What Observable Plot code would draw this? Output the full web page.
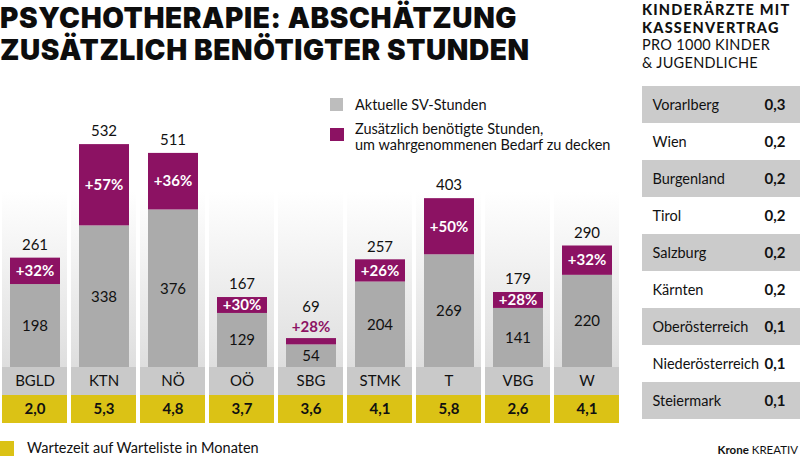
<!DOCTYPE html>
<html>
<head>
<meta charset="utf-8">
<script src="https://cdn.jsdelivr.net/npm/d3@7"></script>
<script src="https://cdn.jsdelivr.net/npm/@observablehq/plot@0.6"></script>
<style>
  html, body { margin: 0; padding: 0; background: #fff; }
  #root { position: relative; width: 800px; height: 456px; overflow: hidden; font-family: Lato, "Noto Sans", sans-serif; color: #111; }
  .abs { position: absolute; }
  #title { left: 0; top: 3px; font-family: Inter, sans-serif; font-weight: 900; font-size: 28px; line-height: 31.5px; letter-spacing: 0.6px; white-space: nowrap; color: #0d0d0d; }
  #sideTitle { left: 642px; top: 1px; font-size: 14.5px; line-height: 17.5px; white-space: nowrap; letter-spacing: 0.3px; }
  #sideTitle b { font-weight: 900; letter-spacing: 1.2px; }
  .legSq { width: 13px; height: 13px; }
  .legTxt { font-size: 14.5px; line-height: 15.5px; white-space: nowrap; }
  #krone { right: 2px; top: 443px; font-size: 11.5px; white-space: nowrap; }
</style>
</head>
<body>
<div id="root">
  <div id="title" class="abs">PSYCHOTHERAPIE: ABSCHÄTZUNG<br>ZUSÄTZLICH BENÖTIGTER STUNDEN</div>
  <div id="sideTitle" class="abs"><b>KINDERÄRZTE MIT<br>KASSENVERTRAG</b><br>PRO 1000 KINDER<br>&amp; JUGENDLICHE</div>

  <div class="abs legSq" style="left:330px;top:98px;background:#bdbdbd"></div>
  <div class="abs legTxt" style="left:355px;top:97px">Aktuelle SV-Stunden</div>
  <div class="abs legSq" style="left:330px;top:128px;width:14px;background:#8c1263"></div>
  <div class="abs legTxt" style="left:355px;top:121px">Zusätzlich benötigte Stunden,<br>um wahrgenommenen Bedarf zu decken</div>

  <div class="abs" id="barsBox" style="left:0;top:80px"></div>
  <div class="abs" id="bottomBox" style="left:0;top:367px"></div>
  <div class="abs" id="tableBox" style="left:642px;top:83px"></div>

  <div class="abs" style="left:0;top:441px;width:14px;height:15px;background:#dbc215"></div>
  <div class="abs legTxt" style="left:27px;top:440px;font-size:14.5px">Wartezeit auf Warteliste in Monaten</div>
  <div class="abs" id="krone"><b>Krone</b> KREATIV</div>
</div>
<script>
// ---- data ----
const regions = ["BGLD", "KTN", "NÖ", "OÖ", "SBG", "STMK", "T", "VBG", "W"];
const currentHours = [198, 338, 376, 129, 54, 204, 269, 141, 220];
const totalHours = [261, 532, 511, 167, 69, 257, 403, 179, 290];
const increasePct = [32, 57, 36, 30, 28, 26, 50, 28, 32];
const waitMonths = [2.0, 5.3, 4.8, 3.7, 3.6, 4.1, 5.8, 2.6, 4.1];

const states = ["Vorarlberg", "Wien", "Burgenland", "Tirol", "Salzburg", "Kärnten", "Oberösterreich", "Niederösterreich", "Steiermark"];
const doctorsPer1000 = [0.3, 0.2, 0.2, 0.2, 0.2, 0.2, 0.1, 0.1, 0.1];

// ---- styling ----
const C = { gray: "#ababab", purple: "#8c1263", rowGray: "#c9c9c9", yellow: "#dbc215", tableGray: "#cbcbcb", text: "#111" };
const FONT = "Lato, 'Noto Sans', sans-serif";

const bars = regions.map((r, i) => ({ region: r, current: currentHours[i], total: totalHours[i], pct: increasePct[i], wait: waitMonths[i] }));
const fmt1 = v => d3.format(".1f")(v).replace(".", ",");
const isSmall = d => (d.total - d.current) < 25;

const xScale = { domain: regions, paddingInner: 0.065, paddingOuter: 0, axis: null };
const barInset = { insetLeft: 8, insetRight: 7 };

const barsPlot = Plot.plot({
  width: 620, height: 287, margin: 0,
  x: xScale,
  y: { domain: [0, 685], axis: null },
  style: { fontFamily: FONT, fontSize: "15px", color: C.text, background: "transparent", overflow: "visible" },
  marks: [
    Plot.barY(bars, { x: "region", y1: 0, y2: 420, fill: "url(#colGrad)" }),
    Plot.barY(bars, { x: "region", y: "current", fill: C.gray, ...barInset }),
    Plot.barY(bars, { x: "region", y1: "current", y2: "total", fill: C.purple, ...barInset }),
    Plot.text(bars, { x: "region", y: d => d.current / 2, text: d => String(d.current), fill: C.text, fontSize: 15 }),
    Plot.text(bars.filter(d => !isSmall(d)), { x: "region", y: d => (d.current + d.total) / 2, text: d => `+${d.pct}%`, fill: "white", fontWeight: "bold", fontSize: 15 }),
    Plot.text(bars.filter(isSmall), { x: "region", y: "total", dy: -11, text: d => `+${d.pct}%`, fill: C.purple, fontWeight: "bold", fontSize: 15 }),
    Plot.text(bars.filter(d => !isSmall(d)), { x: "region", y: "total", dy: -13, text: d => String(d.total), fill: C.text, fontSize: 15 }),
    Plot.text(bars.filter(isSmall), { x: "region", y: "total", dy: -31, text: d => String(d.total), fill: C.text, fontSize: 15 })
  ]
});
const defs = d3.select(barsPlot).insert("defs", ":first-child");
const grad = defs.append("linearGradient").attr("id", "colGrad").attr("x1", 0).attr("y1", 0).attr("x2", 0).attr("y2", 1);
grad.append("stop").attr("offset", 0).attr("stop-color", "#ffffff");
grad.append("stop").attr("offset", 1).attr("stop-color", "#dedede");
document.getElementById("barsBox").appendChild(barsPlot);

const bottomPlot = Plot.plot({
  width: 620, height: 56, margin: 0,
  x: xScale,
  y: { domain: ["name", "wait"], padding: 0, axis: null },
  style: { fontFamily: FONT, fontSize: "15px", color: C.text, background: "transparent" },
  marks: [
    Plot.cell(bars, { x: "region", y: () => "name", fill: C.rowGray }),
    Plot.cell(bars, { x: "region", y: () => "wait", fill: C.yellow }),
    Plot.text(bars, { x: "region", y: () => "name", text: "region", fill: C.text, fontSize: 15 }),
    Plot.text(bars, { x: "region", y: () => "wait", text: d => fmt1(d.wait), fill: C.text, fontWeight: "bold", fontSize: 15 })
  ]
});
document.getElementById("bottomBox").appendChild(bottomPlot);

const tableRows = states.map((s, i) => ({ state: s, value: doctorsPer1000[i], i }));
const tablePlot = Plot.plot({
  width: 158, height: 338, margin: 0,
  y: { domain: states, padding: 0, axis: null },
  style: { fontFamily: FONT, fontSize: "14.5px", color: C.text, background: "transparent" },
  marks: [
    Plot.cell(tableRows.filter(d => d.i % 2 === 0), { y: "state", fill: C.tableGray }),
    Plot.text(tableRows, { y: "state", text: "state", frameAnchor: "left", dx: 10, textAnchor: "start", fill: C.text, fontSize: 14.5 }),
    Plot.text(tableRows, { y: "state", text: d => fmt1(d.value), frameAnchor: "right", dx: -15, textAnchor: "end", fill: C.text, fontWeight: "bold", fontSize: 15 })
  ]
});
document.getElementById("tableBox").appendChild(tablePlot);
</script>
</body>
</html>
